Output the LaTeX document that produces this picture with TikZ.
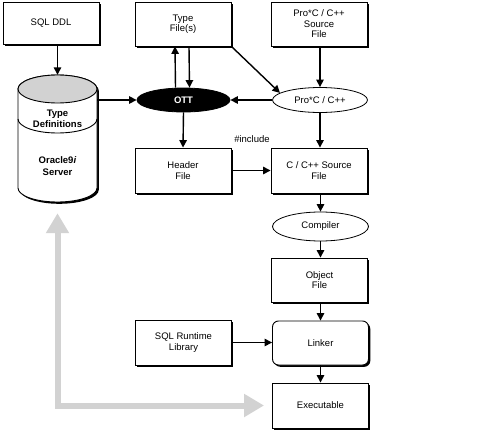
\documentclass[tikz,border=0pt]{standalone}
\usepackage{fontspec}
\setmainfont{Liberation Sans}
\usetikzlibrary{arrows.meta,shadows,shapes.geometric}
\begin{document}
\begin{tikzpicture}[x=1pt,y=1pt,
 every node/.style={font=\fontsize{9.5}{10.5}\selectfont, align=center, inner sep=0pt},
 box/.style={draw, fill=white, line width=0.9pt, minimum width=96pt, minimum height=44pt,
   drop shadow={shadow xshift=1.8pt, shadow yshift=-1.8pt, fill=black, opacity=1}},
 oval/.style={ellipse, draw, fill=white, line width=0.8pt, minimum width=95pt, minimum height=25pt},
 arr/.style={-{Triangle[length=7.5pt,width=7.5pt]}, line width=1.4pt},
 bigarr/.style={{Triangle[length=20pt,width=22pt]}-{Triangle[length=20pt,width=22pt]}, line width=6pt, draw=gray!35, line join=miter},
]
\useasboundingbox (0,0) rectangle (496,-447);

% nodes
\node[box, minimum width=96pt, minimum height=42pt] (sqlddl) at (51,-23.5) {SQL DDL};
\node[box] (typef) at (183,-24) {Type\\File(s)};
\node[box] (procsrc) at (319,-24) {Pro*C / C++\\Source\\File};
\node[oval, fill=black, text=white, minimum width=93pt, minimum height=24pt,
      font=\fontsize{9.5}{10.5}\selectfont\bfseries] (ott) at (183.5,-100) {OTT};
\node[oval] (proc) at (320,-100) {Pro*C / C++};
\node[box, minimum height=45pt] (header) at (183,-170.5) {Header\\File};
\node[box, minimum height=45pt] (csrc) at (319,-170.5) {C / C++ Source\\File};
\node[oval, minimum width=96pt, minimum height=29pt] (compiler) at (320.5,-226.5) {Compiler};
\node[box] (object) at (319.5,-280) {Object\\File};
\node[box, minimum height=45pt] (sqlrt) at (183.5,-342.5) {SQL Runtime\\Library};
\node[box, rounded corners=6pt] (linker) at (320.5,-343) {Linker};
\node[box, minimum height=45pt] (exe) at (320.5,-405.5) {Executable};
\node (inc) at (252,-139) {\#include};

% cylinder
\node[minimum width=79pt, minimum height=127pt] (db) at (57.5,-138.5) {};
\fill[black, shift={(1.8,-1.8)}] (18,-89) -- (18,-188) arc[start angle=180, end angle=360, x radius=39.5, y radius=14] -- (97,-89) arc[start angle=0, end angle=180, x radius=39.5, y radius=14] -- cycle;
\draw[fill=white, line width=0.9pt] (18,-89) -- (18,-188) arc[start angle=180, end angle=360, x radius=39.5, y radius=14] -- (97,-89) arc[start angle=0, end angle=180, x radius=39.5, y radius=14] -- cycle;
\draw[fill=gray!35, line width=0.9pt] (57.5,-89) ellipse[x radius=39.5, y radius=14];
\draw[line width=0.9pt] (18,-119) arc[start angle=180, end angle=360, x radius=39.5, y radius=14];
\node[font=\fontsize{9.5}{11}\selectfont\bfseries] (tdef) at (57.5,-118.5) {Type\\Definitions};
\node[font=\fontsize{9.5}{12}\selectfont\bfseries] (osrv) at (57.5,-166) {Oracle9\textit{i}\\Server};

% grey two-way arrow
\coordinate (g1) at ([yshift=-11pt]db.south);
\coordinate (g2) at ([xshift=-8pt]exe.west);
\draw[bigarr] (g1) |- (g2);

% connectors
\draw[arr] (sqlddl.south -| db.north) -- (db.north);
\draw[arr] (db.east |- ott.west) -- (ott.west);
\draw[arr] ([xshift=-8pt]ott.north) -- ([xshift=-8pt]typef.south);
\draw[arr] ([xshift=6pt]typef.south) -- ([xshift=6pt]ott.north);
\draw[arr] (typef.south east) -- (proc.170);
\draw[arr] (proc.west) -- (ott.east);
\draw[arr] (procsrc.south -| proc.north) -- (proc.north);
\draw[arr] (ott.south) -- (header.north);
\draw[arr] (proc.south) -- (proc.south |- csrc.north);
\draw[arr] (header.east) -- (csrc.west);
\draw[arr] (csrc.south -| compiler.north) -- (compiler.north);
\draw[arr] (compiler.south) -- (compiler.south |- object.north);
\draw[arr] (object.south -| linker.north) -- (linker.north);
\draw[arr] (sqlrt.east) -- (sqlrt.east -| linker.west);
\draw[arr] (linker.south) -- (exe.north);
\end{tikzpicture}
\end{document}
